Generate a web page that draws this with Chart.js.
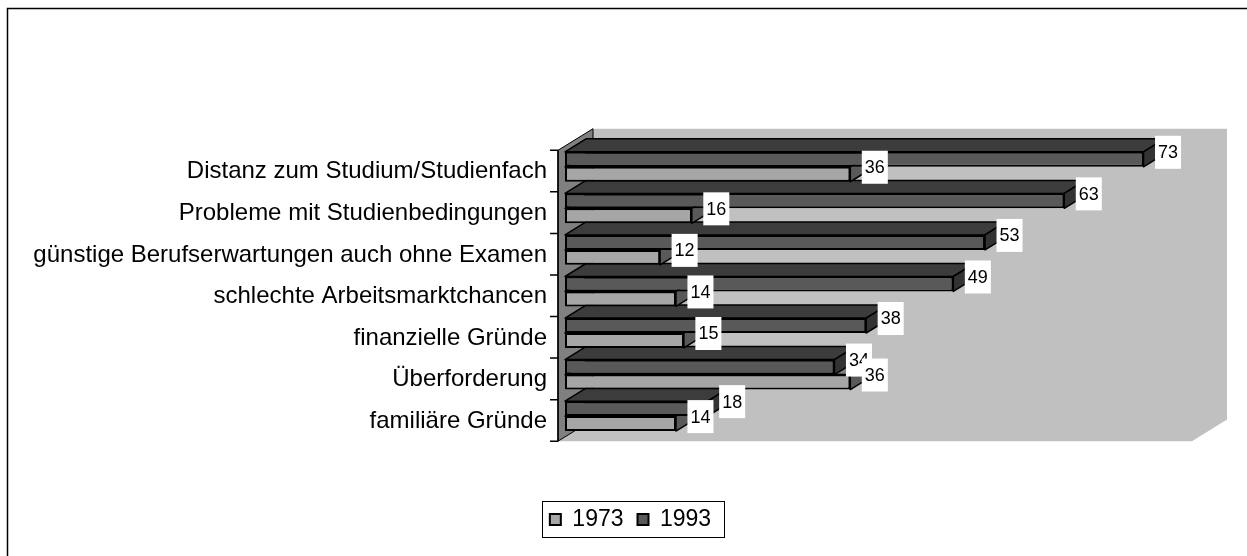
<!DOCTYPE html>
<html><head><meta charset="utf-8">
<script src="https://cdn.jsdelivr.net/npm/chart.js@4.4.0/dist/chart.umd.min.js"></script>
<style>html,body{margin:0;padding:0;background:#fff;}#wrap{position:relative;width:1247px;height:556px;}</style>
</head><body><div id="wrap"><canvas id="c" width="1247" height="556"></canvas></div>
<script>
// ---- data ----
const categories = [
  'Distanz zum Studium/Studienfach',
  'Probleme mit Studienbedingungen',
  'günstige Berufserwartungen auch ohne Examen',
  'schlechte Arbeitsmarktchancen',
  'finanzielle Gründe',
  'Überforderung',
  'familiäre Gründe'
];
const values1993 = [73, 63, 53, 49, 38, 34, 18];
const values1973 = [36, 16, 12, 14, 15, 36, 14];
const seriesNames = ['1993', '1973'];
const axisMin = 0;
const axisMax = 80;

// ---- styles ----
const FONT = 'Liberation Sans, Arial, sans-serif';
const faceColors = {
  '1993': {front: '#595959', top: '#3c3c3c', end: '#333333'},
  '1973': {front: '#a6a6a6', top: '#7d7d7d', end: '#595959'}
};
const DEPTH = {dx: 21, dy: -13};        // bar depth
const FRONT = {dx: -7, dy: 4.3};        // box front plane relative to bar plane
const BACK = {dx: 28, dy: -17.3};       // box back plane relative to bar plane
const PAD_LEFT = 27;
const PAD_RIGHT = 13;
const PLOT_LEFT = 565;
const PLOT_RIGHT = 1199;

function poly(ctx, pts, fill, stroke, lw) {
  ctx.beginPath();
  ctx.moveTo(pts[0][0], pts[0][1]);
  for (let i = 1; i < pts.length; i++) ctx.lineTo(pts[i][0], pts[i][1]);
  ctx.closePath();
  if (fill) { ctx.fillStyle = fill; ctx.fill(); }
  if (stroke) { ctx.strokeStyle = stroke; ctx.lineWidth = lw || 1; ctx.stroke(); }
}

const box3d = {
  id: 'box3d',
  beforeDatasetsDraw(chart) {
    const ctx = chart.ctx;
    const {left: L, right: R, top: T, bottom: B} = chart.chartArea;
    ctx.save();
    ctx.lineJoin = 'round';
    // back wall + floor as one shape
    poly(ctx, [[L + FRONT.dx, T + FRONT.dy], [L + BACK.dx, T + BACK.dy], [R + BACK.dx, T + BACK.dy],
               [R + BACK.dx, B + BACK.dy], [R + FRONT.dx, B + FRONT.dy], [L + FRONT.dx, B + FRONT.dy]], '#c0c0c0');
    // left wall
    poly(ctx, [[L + FRONT.dx, T + FRONT.dy], [L + BACK.dx, T + BACK.dy], [L + BACK.dx, B + BACK.dy], [L + FRONT.dx, B + FRONT.dy]], '#808080', '#000', 1);
    // axis line + ticks at category boundaries
    const yScale = chart.scales.y;
    const n = yScale.ticks.length;
    ctx.strokeStyle = '#000';
    ctx.lineWidth = 1.5;
    ctx.beginPath();
    ctx.moveTo(L + FRONT.dx, T + FRONT.dy);
    ctx.lineTo(L + FRONT.dx, B + FRONT.dy);
    for (let i = 0; i <= n; i++) {
      const y = T + FRONT.dy + i * (B - T) / n;
      ctx.moveTo(L + FRONT.dx - 8, y);
      ctx.lineTo(L + FRONT.dx, y);
    }
    ctx.stroke();
    // top and end faces, painted from bottom category upward
    const order = [1, 0];
    for (let k = n - 1; k >= 0; k--) {
      for (const di of order) {
        const meta = chart.getDatasetMeta(di);
        const el = meta.data[k];
        if (!el) continue;
        const p = el.getProps(['x', 'y', 'base', 'height'], true);
        const yt = p.y - p.height / 2, yb = p.y + p.height / 2;
        const x0 = Math.min(p.base, p.x), x1 = Math.max(p.base, p.x);
        const c = faceColors[chart.data.datasets[di].label];
        poly(ctx, [[x0, yt], [x1, yt], [x1 + DEPTH.dx, yt + DEPTH.dy], [x0 + DEPTH.dx, yt + DEPTH.dy]], c.top, '#000', 1.5);
        poly(ctx, [[x1, yt], [x1 + DEPTH.dx, yt + DEPTH.dy], [x1 + DEPTH.dx, yb + DEPTH.dy], [x1, yb]], c.end, '#000', 1.5);
      }
    }
    ctx.restore();
  },
  afterDatasetsDraw(chart) {
    const ctx = chart.ctx;
    ctx.save();
    ctx.font = '18px ' + FONT;
    ctx.textBaseline = 'middle';
    ctx.textAlign = 'left';
    for (const di of [0, 1]) {
      const meta = chart.getDatasetMeta(di);
      const data = chart.data.datasets[di].data;
      meta.data.forEach((el, k) => {
        const p = el.getProps(['x', 'y', 'base', 'height'], true);
        const txt = String(data[k]);
        const w = ctx.measureText(txt).width + 6;
        const h = 33;
        const left = Math.max(p.base, p.x) + DEPTH.dx / 2 + 1;
        const cy = p.y + DEPTH.dy / 2 - 0.5;
        ctx.fillStyle = '#fff';
        ctx.fillRect(left, cy - h / 2, w, h);
        ctx.fillStyle = '#000';
        ctx.fillText(txt, left + 3, cy + 1);
      });
    }
    ctx.restore();
  },
  afterDraw(chart) {
    const ctx = chart.ctx;
    ctx.save();
    // legend frame
    const hb = chart.legend.legendHitBoxes;
    if (hb && hb.length) {
      const first = hb[0], last = hb[hb.length - 1];
      ctx.strokeStyle = '#000';
      ctx.lineWidth = 1;
      ctx.strokeRect(Math.round(first.left - 8) + 0.5, Math.round(first.top - 7) + 0.5,
        Math.round(last.left + last.width + 13 - (first.left - 8)), Math.round(first.height + 13));
    }
    // outer chart frame (cropped at right and bottom)
    ctx.strokeStyle = '#000';
    ctx.lineWidth = 1.5;
    ctx.strokeRect(7.5, 8.5, 1400, 700);
    ctx.restore();
  }
};

new Chart(document.getElementById('c'), {
  type: 'bar',
  data: {
    labels: categories,
    datasets: [
      {label: seriesNames[0], data: values1993, backgroundColor: faceColors['1993'].front,
       borderColor: '#000', borderWidth: 2, borderSkipped: false},
      {label: seriesNames[1], data: values1973, backgroundColor: faceColors['1973'].front,
       borderColor: '#000', borderWidth: 2, borderSkipped: false}
    ]
  },
  options: {
    indexAxis: 'y',
    responsive: false,
    animation: false,
    devicePixelRatio: 1,
    events: [],
    categoryPercentage: 0.72,
    barPercentage: 1.0,
    layout: {padding: {left: PAD_LEFT, right: PAD_RIGHT, top: 146, bottom: 15}},
    scales: {
      x: {
        type: 'linear', min: axisMin, max: axisMax,
        grid: {display: false, drawTicks: false},
        border: {display: false},
        ticks: {display: false},
        afterFit(scale) { scale.height = 57.1; }
      },
      y: {
        type: 'category',
        grid: {display: false, drawTicks: false},
        border: {display: false},
        ticks: {autoSkip: false, padding: 18, labelOffset: 5, color: '#000', font: {family: FONT, size: 24}},
        afterFit(scale) { scale.width = PLOT_LEFT - PAD_LEFT; }
      },
      yRightSpacer: {
        type: 'category',
        position: 'right',
        grid: {display: false, drawTicks: false},
        border: {display: false},
        ticks: {display: false},
        afterFit(scale) { scale.width = 1247 - PAD_RIGHT - PLOT_RIGHT; }
      }
    },
    plugins: {
      legend: {
        position: 'bottom',
        reverse: true,
        labels: {boxWidth: 11, boxHeight: 11, padding: 14, color: '#000', font: {family: FONT, size: 23}}
      },
      tooltip: {enabled: false},
      title: {display: false}
    }
  },
  plugins: [box3d]
});
</script>
</body></html>
